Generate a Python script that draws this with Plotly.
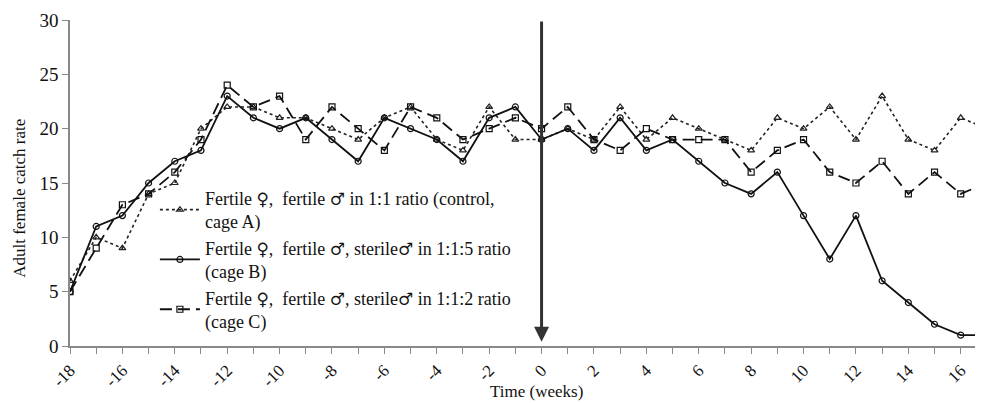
import plotly.graph_objects as go

weeks = list(range(-18, 18))
control_a = [6, 10, 9, 14, 15, 20, 22, 22, 21, 21, 20, 19, 21, 22, 19, 18, 22, 19,
             19, 20, 19, 22, 19, 21, 20, 19, 18, 21, 20, 22, 19, 23, 19, 18, 21, 20]
cage_b = [5, 11, 12, 15, 17, 18, 23, 21, 20, 21, 19, 17, 21, 20, 19, 17, 21, 22,
          19, 20, 18, 21, 18, 19, 17, 15, 14, 16, 12, 8, 12, 6, 4, 2, 1, 1]
cage_c = [5, 9, 13, 14, 16, 19, 24, 22, 23, 19, 22, 20, 18, 22, 21, 19, 20, 21,
          20, 22, 19, 18, 20, 19, 19, 19, 16, 18, 19, 16, 15, 17, 14, 16, 14, 15]

F = '<span style="font-family:DejaVu Serif;font-size:17px">♀</span>'
M = '<span style="font-family:DejaVu Serif;font-size:17px">♂</span>'
names = [
    f"Fertile {F},  fertile {M} in 1:1 ratio (control,<br>cage A)",
    f"Fertile {F},  fertile {M}, sterile{M} in 1:1:5 ratio<br>(cage B)",
    f"Fertile {F},  fertile {M}, sterile{M} in 1:1:2 ratio<br>(cage C)",
]
tick_vals = list(range(-18, 18))
tick_text = [str(v) if v % 2 == 0 else "" for v in tick_vals]
y_title = "Adult female catch rate"
x_title = "Time (weeks)"

FONT = "Liberation Serif"
fig = go.Figure()
fig.add_trace(go.Scatter(x=weeks, y=control_a, name=names[0], mode="lines+markers",
                         line=dict(color="#222", width=1.6, dash="dot"),
                         marker=dict(symbol="triangle-up-open", size=6, color="#222", line=dict(width=1.2))))
fig.add_trace(go.Scatter(x=weeks, y=cage_b, name=names[1], mode="lines+markers",
                         line=dict(color="#111", width=1.8),
                         marker=dict(symbol="circle-open", size=6, color="#111", line=dict(width=1.2))))
fig.add_trace(go.Scatter(x=weeks, y=cage_c, name=names[2], mode="lines+markers",
                         line=dict(color="#111", width=1.8, dash="12px,6px"),
                         marker=dict(symbol="square-open", size=6, color="#111", line=dict(width=1.2))))

fig.add_annotation(x=0, y=0.4, ax=0, ay=30, xref="x", yref="y", axref="x", ayref="y",
                   showarrow=True, arrowhead=2, arrowsize=1, arrowwidth=3, arrowcolor="#333", text="")
fig.add_annotation(x=-0.055, y=0.454, xref="paper", yref="paper", text=y_title, textangle=-90,
                   showarrow=False, xanchor="center", yanchor="middle",
                   font=dict(family=FONT, size=17, color="#111"))
fig.add_annotation(x=0.511, y=-0.105, xref="paper", yref="paper", text=x_title,
                   showarrow=False, xanchor="center", yanchor="top",
                   font=dict(family=FONT, size=17, color="#111"))

fig.update_layout(
    width=975, height=395,
    margin=dict(l=62, r=0, t=12, b=57, autoexpand=False),
    paper_bgcolor="white", plot_bgcolor="white",
    font=dict(family=FONT, size=18, color="#111"),
    showlegend=True,
    legend=dict(x=0.093, y=0.51, xanchor="left", yanchor="top", bgcolor="rgba(255,255,255,0)",
                font=dict(family=FONT, size=18, color="#111"), tracegroupgap=6,
                itemwidth=40),
    xaxis=dict(range=[-18, 16.85], tickmode="array", tickvals=tick_vals, ticktext=tick_text,
               tickangle=-45, ticks="outside", ticklen=6, tickcolor="#888", automargin=False,
               showline=True, linecolor="#888", linewidth=1.5, showgrid=False, zeroline=False,
               tickfont=dict(family=FONT, size=17)),
    yaxis=dict(range=[0, 30], tickvals=[0, 5, 10, 15, 20, 25, 30], ticks="outside", ticklen=6,
               tickcolor="#888", showline=True, linecolor="#888", linewidth=1.5,
               showgrid=False, zeroline=False, automargin=False,
               tickfont=dict(family=FONT, size=19)),
)

fig.write_html("out.html")
